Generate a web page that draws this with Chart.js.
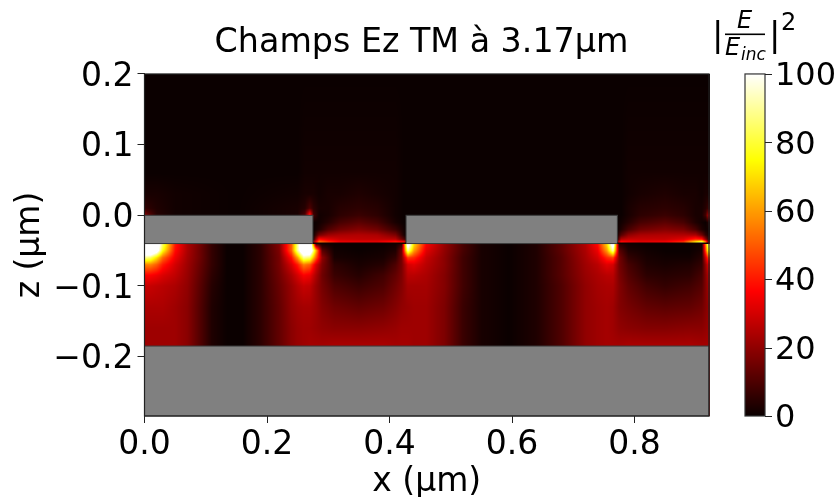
<!DOCTYPE html>
<html><head><meta charset="utf-8">
<style>html,body{margin:0;padding:0;background:#fff}#w{width:838px;height:497px}</style>
<script src="https://cdn.jsdelivr.net/npm/chart.js@4"></script></head>
<body><div id="w"><canvas id="c" width="838" height="497"></canvas></div>
<script>
const titleText="Champs Ez TM à 3.17µm";
const xLabel="x (µm)", zLabel="z (µm)";
const xTicks=[0,0.2,0.4,0.6,0.8];
const zTicks=[-0.2,-0.1,0,0.1,0.2];
const cTicks=[0,20,40,60,80,100];
const xMax=0.9216, zMin=-0.284, zMax=0.2;
const solidBlocks=[[0,0.275,0,-0.04],[0.427,0.772,0,-0.04],[0,xMax,-0.185,zMin]];
const gapFloors=[[0.275,0.427],[0.772,xMax]];
const floorZ=-0.0395;

// field below the slab (|E/Einc|^2)
const xLow=[0,.01,.02,.03,.05,.07,.09,.11,.135,.16,.19,.22,.24,.25,.26,.27,.28,.29,.31,.35,.39,.41,.42,.43,.44,.46,.49,.52,.55,.595,.64,.68,.72,.74,.755,.765,.775,.79,.82,.85,.89,.91,.92];
const zLow=[-0.185,-0.16,-0.13,-0.10,-0.085,-0.07,-0.06,-0.05,-0.04];
const low185=[22,22,22,22,22,19,11,3,0,0,5,13,19,21,22,23,23,23,24,24,24,23,23,23,22,22,17,7,2,0,3,10,20,22,23,23,23,24,24,24,24,23,23];
const low160=[22,22,22,22,22,19,11,3,0,0,5,13,19,21,22,22,21,20,19,19,20,21,22,22,22,22,17,7,2,0,3,10,20,22,23,22,20,19,18,18,19,19,21];
const low130=[24,24,24,24,22,19,11,3,0,0,5,13,20,22,23,23,21,18,15,13,15,18,20,21,22,22,17,7,2,0,3,10,20,22,23,22,18,16,13,12,13,15,20];
const low100=[28,28,27,26,24,20,12,4,0,0,5,14,21,25,28,27,21,16,10,7,10,15,18,23,23,23,18,8,2,0,3,10,20,23,24,24,18,13,8,6,8,11,22];
const low085=[36,36,34,31,27,21,13,5,0,0,5,15,24,30,36,34,24,15,7,4,8,13,17,26,26,24,18,8,2,0,3,11,21,24,26,26,17,11,5,4,5,9,24];
const low070=[56,56,50,40,30,22,14,6,0,0,5,16,30,40,55,50,30,17,5,2,4,10,16,30,32,26,19,8,2,0,3,11,22,26,32,30,16,9,3,2,3,6,30];
const low060=[90,85,70,52,34,23,15,6,0,0,5,16,38,60,90,85,50,20,2,1,2,6,16,45,42,28,19,8,2,0,3,11,23,30,42,46,16,6,2,1,1,4,45];
const low050=[120,125,110,75,38,24,15,6,0,0,5,17,50,90,120,120,65,12,1,0,1,3,15,90,60,32,20,9,2,0,3,12,24,34,60,92,12,3,1,0,0,2,75];
const low040=[120,130,115,85,40,24,16,6,0,0,5,18,50,90,125,130,5,1,0,0,0,1,5,115,70,36,21,9,2,0,3,12,25,38,70,115,4,1,0,0,0,1,90];
const lowRows=[low185,low160,low130,low100,low085,low070,low060,low050,low040];

// field above the gratings floor
const xUp=[0,.005,.02,.05,.15,.25,.262,.27,.276,.285,.30,.32,.35,.38,.41,.424,.43,.45,.6,.76,.772,.778,.79,.81,.85,.88,.90,.91,.916,.92];
const zUp=[-0.038,-0.034,-0.028,-0.02,-0.01,0,0.01,0.03,0.06,0.2];
const upA=[0,0,0,0,0,0,0,0,20,55,45,35,34,34,42,40,0,0,0,0,20,40,36,33,36,45,75,90,60,20];
const upB=[0,0,0,0,0,0,0,0,5,38,32,28,27,27,26,10,0,0,0,0,4,25,28,28,28,32,42,40,20,8];
const upC=[0,0,0,0,0,0,0,0,1,16,22,24,25,24,17,2,0,0,0,0,1,11,20,24,25,25,24,15,6,3];
const upD=[0,0,0,0,0,0,0,0,0,3,10,15,18,15,7,1,0,0,0,0,0,3,9,15,18,16,9,3,1,1];
const upE=[0,0,0,0,0,0,0,0,0,1,4,9,12,9,2,0,0,0,0,0,0,1,4,9,12,9,3,1,0,3];
const upF=[20,14,4,1,0,2,10,45,8,1,2,5,7,5,1,0,0,0,0,0,0,0,2,5,7,5,2,2,8,22];
const upG=[6,5,3,1,0,2,4,10,5,2,2,4,5,4,1,0,0,0,0,0,0,0,2,4,5,4,2,2,4,7];
const upH=[2,2,2,1,0,1,2,2,2,1,2,2,3,2,1,0,0,0,0,0,0,0,1,2,3,2,2,1,2,2];
const upI=[0,0,0,0,0,0,1,1,1,1,1,1,1,1,1,0,0,0,0,0,0,0,1,1,1,1,1,1,1,1];
const upJ=[0,0,0,0,0,0,0,0,0,0,0,0,0,0,0,0,0,0,0,0,0,0,0,0,0,0,0,0,0,0];
const upRows=[upA,upB,upC,upD,upE,upF,upG,upH,upI,upJ];

function hot(v){const t=Math.max(0,Math.min(1,v/100));
 const c=a=>Math.max(0,Math.min(1,a));
 return [255*c(0.0416+t/0.365*0.9584),255*c((t-0.365)/0.381),255*c((t-0.746)/0.254)];}
function seg(a,v){let i=0;while(i<a.length-2&&a[i+1]<v)i++;const f=Math.max(0,Math.min(1,(v-a[i])/(a[i+1]-a[i])));return [i,f];}
function sample(xs,zs,rows,x,z){const [i,fx]=seg(xs,x),[j,fz]=seg(zs,z);
 const p=rows[j],q=rows[j+1];
 return (p[i]*(1-fx)+p[i+1]*fx)*(1-fz)+(q[i]*(1-fx)+q[i+1]*fx)*fz;}

const fieldPlugin={id:'field',
 beforeDraw(ch){
  if(ch.$labelsNudged)return;ch.$labelsNudged=true;
  for(const id of ['y','yc']){ch.scales[id].getLabelItems().forEach(it=>{it.options.translation[1]+=3;});}
 },
 beforeDatasetsDraw(ch){
 const a=ch.chartArea,sx=ch.scales.x,sy=ch.scales.y,sc=ch.scales.yc,ctx=ch.ctx;
 const L=Math.round(a.left),T=Math.round(a.top),W=Math.round(a.right-a.left),H=Math.round(a.bottom-a.top);
 const img=ctx.createImageData(W,H);
 for(let py=0;py<H;py++){const z=sy.getValueForPixel(T+py+0.5);
  for(let px=0;px<W;px++){const x=sx.getValueForPixel(L+px+0.5);
   const v=z>=-0.04?sample(xUp,zUp,upRows,x,z):sample(xLow,zLow,lowRows,x,z);
   const c=hot(v),k=(py*W+px)*4;img.data[k]=c[0];img.data[k+1]=c[1];img.data[k+2]=c[2];img.data[k+3]=255;}}
 ctx.putImageData(img,L,T);
 ctx.save();
 ctx.fillStyle='#808080';ctx.strokeStyle='#3c3c3c';ctx.lineWidth=1;
 for(const b of solidBlocks){const x0=sx.getPixelForValue(b[0]),x1=sx.getPixelForValue(b[1]),y0=sy.getPixelForValue(b[2]),y1=sy.getPixelForValue(b[3]);
  ctx.fillRect(x0,y0,x1-x0,y1-y0);ctx.strokeRect(x0,y0,x1-x0,y1-y0);}
 ctx.strokeStyle='#100000';ctx.lineWidth=1.5;
 for(const g of gapFloors){const y=sy.getPixelForValue(floorZ);ctx.beginPath();ctx.moveTo(sx.getPixelForValue(g[0]),y);ctx.lineTo(sx.getPixelForValue(g[1]),y);ctx.stroke();}
 // frame
 ctx.strokeStyle='#222';ctx.lineWidth=1.2;ctx.strokeRect(a.left,a.top,a.right-a.left,a.bottom-a.top);
 // colourbar, via its own axis
 const cx0=745,cx1=765;
 for(let py=T;py<T+H;py++){const c=hot(sc.getValueForPixel(py+0.5));ctx.fillStyle=`rgb(${c[0]|0},${c[1]|0},${c[2]|0})`;ctx.fillRect(cx0,py,cx1-cx0,1);}
 ctx.strokeStyle='#333';ctx.lineWidth=1.2;ctx.strokeRect(cx0,a.top,cx1-cx0,a.bottom-a.top);
 ctx.strokeStyle='#222';ctx.lineWidth=1;
 for(const t of cTicks){const y=Math.round(sc.getPixelForValue(t))+0.5;ctx.beginPath();ctx.moveTo(cx1,y);ctx.lineTo(cx1+7,y);ctx.stroke();}
 // colourbar label
 ctx.fillStyle='#000';ctx.textBaseline='alphabetic';ctx.textAlign='left';
 ctx.font='34px "DejaVu Sans"';ctx.fillText('|',712,46);ctx.fillText('|',769,46);
 ctx.fillStyle='#000';ctx.fillRect(725,33.5,40,1.6);
 ctx.font='oblique 24px "DejaVu Sans"';ctx.fillText('E',737,28);ctx.fillText('E',725,55);
 ctx.font='oblique 17px "DejaVu Sans"';ctx.fillText('inc',741,60);
 ctx.font='24px "DejaVu Sans"';ctx.fillText('2',781,30);
 ctx.restore();
}};

const f=s=>({family:'"DejaVu Sans"',size:s});
const fieldPts=[];
zLow.forEach((z,j)=>xLow.forEach((x,i)=>fieldPts.push({x:x,y:z,v:lowRows[j][i]})));
zUp.forEach((z,j)=>xUp.forEach((x,i)=>fieldPts.push({x:x,y:z,v:upRows[j][i]})));
const fmt=v=>{const s=Math.abs(v).toFixed(1);return (v<-1e-9?'\u2212':'')+s;};
new Chart(document.getElementById('c'),{
 type:'scatter',plugins:[fieldPlugin],
 data:{datasets:[{label:'|E/Einc|²',data:fieldPts,pointRadius:0,xAxisID:'x',yAxisID:'y'}]},
 options:{responsive:false,animation:false,
  layout:{autoPadding:false,padding:{left:5,right:0,top:0,bottom:0}},
  plugins:{legend:{display:false},tooltip:{enabled:false},
   title:{display:true,text:titleText,color:'#000',font:{...f(33.3),weight:'normal'},padding:{top:23,bottom:11}}},
  scales:{
   x:{type:'linear',min:0,max:xMax,position:'bottom',
    afterBuildTicks:s=>{s.ticks=xTicks.map(v=>({value:v}));},
    afterFit:s=>{s.height=81;},
    grid:{drawOnChartArea:false,tickLength:7,color:'#222',lineWidth:1},border:{display:false},
    ticks:{font:f(33),color:'#000',maxRotation:0,autoSkip:false,padding:3,callback:fmt},
    title:{display:true,text:xLabel,color:'#000',font:f(33),padding:{top:0,bottom:-5}}},
   y:{type:'linear',min:zMin,max:zMax,position:'left',
    afterBuildTicks:s=>{s.ticks=zTicks.map(v=>({value:v}));},
    afterFit:s=>{s.width=139.5;},
    grid:{drawOnChartArea:false,tickLength:7,color:'#222',lineWidth:1},border:{display:false},
    ticks:{font:f(33),color:'#000',autoSkip:false,padding:4,callback:fmt},
    title:{display:true,text:zLabel,color:'#000',font:f(33),padding:{top:6,bottom:0}}},
   yc:{type:'linear',min:0,max:100,position:'right',
    afterBuildTicks:s=>{s.ticks=cTicks.map(v=>({value:v}));},
    afterFit:s=>{s.width=129;},
    grid:{display:false,tickLength:60},border:{display:false},
    ticks:{font:f(32),color:'#000',autoSkip:false,padding:6,callback:v=>String(v)}}
  }}
});
</script></body></html>
